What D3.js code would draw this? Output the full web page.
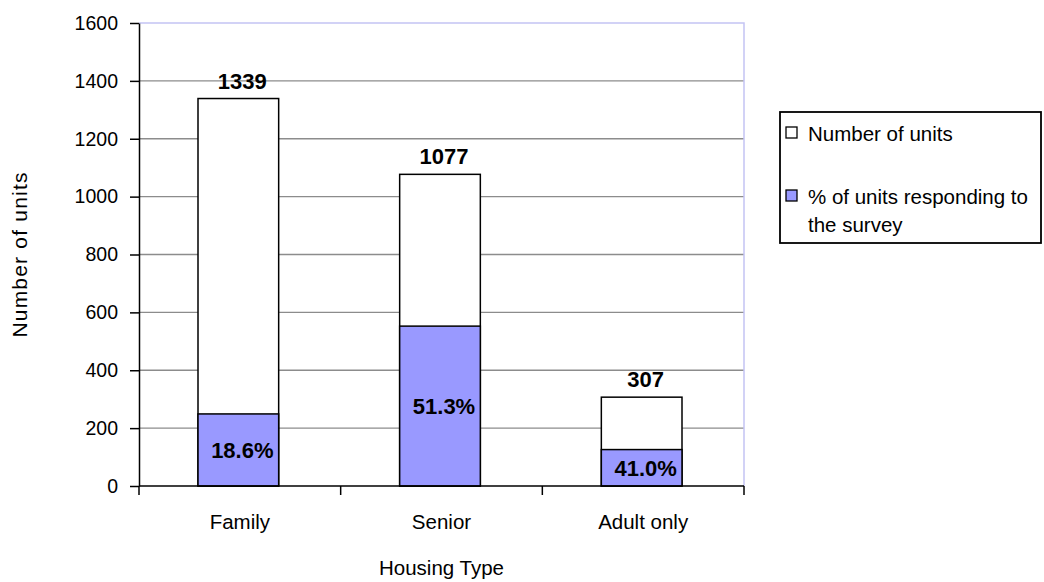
<!DOCTYPE html>
<html>
<head>
<meta charset="utf-8">
<style>
body { margin: 0; background: #fff; }
svg { display: block; font-family: Arial, 'Liberation Sans', sans-serif; }
</style>
</head>
<body>
<svg id="chart"></svg>
<script src="https://cdn.jsdelivr.net/npm/d3@7"></script>
<script>

const categories = ['Family', 'Senior', 'Adult only'];
const units = [1339, 1077, 307];
const responsePct = [18.6, 51.3, 41.0];
const yTicks = [0, 200, 400, 600, 800, 1000, 1200, 1400, 1600];
const legendLabels = ['Number of units', ['% of units responding to', 'the survey']];

const blue = '#9999ff';
const fullWidth = 1044;
const fullHeight = 582;
const plot = {left: 139, right: 744, top: 23, bottom: 486};

const data = categories.map((c, i) => ({
    category: c,
    total: units[i],
    pct: responsePct[i],
    responding: units[i] * responsePct[i] / 100,
}));

const svg = d3.select('#chart')
    .attr('width', fullWidth)
    .attr('height', fullHeight);

svg.append('rect')
    .attr('width', fullWidth)
    .attr('height', fullHeight)
    .attr('fill', '#fff');

const x = d3.scaleBand()
    .domain(categories)
    .range([plot.left, plot.right]);

const y = d3.scaleLinear()
    .domain([0, 1600])
    .range([plot.bottom, plot.top]);

const barWidth = x.bandwidth() * 0.4;
const barX = d => x(d.category) + (x.bandwidth() - barWidth) / 2 - 1.5;

// gridlines
svg.append('g')
    .selectAll('line')
    .data(yTicks.filter(t => t > 0 && t < 1600))
    .join('line')
    .attr('x1', plot.left)
    .attr('x2', plot.right)
    .attr('y1', d => y(d))
    .attr('y2', d => y(d))
    .attr('stroke', '#8c8c8c')
    .attr('stroke-width', 1.3);

// plot border top and right
svg.append('path')
    .attr('d', `M${plot.left},${y(1600)}H${plot.right}V${y(0)}`)
    .attr('fill', 'none')
    .attr('stroke', '#c4c4f4')
    .attr('stroke-width', 1.5);

// bars: total units (white) then responding (blue)
svg.append('g')
    .selectAll('rect')
    .data(data)
    .join('rect')
    .attr('x', barX)
    .attr('width', barWidth)
    .attr('y', d => y(d.total))
    .attr('height', d => y(0) - y(d.total))
    .attr('fill', '#fff')
    .attr('stroke', '#000')
    .attr('stroke-width', 1.5);

svg.append('g')
    .selectAll('rect')
    .data(data)
    .join('rect')
    .attr('x', barX)
    .attr('width', barWidth)
    .attr('y', d => y(d.responding))
    .attr('height', d => y(0) - y(d.responding))
    .attr('fill', blue)
    .attr('stroke', '#000')
    .attr('stroke-width', 1.5);

// y axis
const yAxis = svg.append('g')
    .attr('transform', `translate(${plot.left},0)`)
    .call(d3.axisLeft(y).tickValues(yTicks).tickFormat(d3.format('d'))
        .tickSize(9).tickPadding(12).tickSizeOuter(0));
yAxis.select('.domain').attr('stroke', '#000').attr('stroke-width', 1.5);
yAxis.selectAll('.tick line').attr('stroke', '#000').attr('stroke-width', 1.5);
yAxis.selectAll('.tick text')
    .attr('font-size', 19.5)
    .attr('font-family', 'Arial, Liberation Sans, sans-serif')
    .attr('fill', '#000');

// x axis: ticks at category boundaries
const xAxisG = svg.append('g');
xAxisG.append('line')
    .attr('x1', plot.left)
    .attr('x2', plot.right)
    .attr('y1', y(0))
    .attr('y2', y(0))
    .attr('stroke', '#000')
    .attr('stroke-width', 1.5);
xAxisG.selectAll('line.tk')
    .data(categories.concat(['end']))
    .join('line')
    .attr('class', 'tk')
    .attr('x1', (d, i) => plot.left + i * x.bandwidth())
    .attr('x2', (d, i) => plot.left + i * x.bandwidth())
    .attr('y1', y(0))
    .attr('y2', y(0) + 9)
    .attr('stroke', '#000')
    .attr('stroke-width', 1.5);
xAxisG.selectAll('text')
    .data(categories)
    .join('text')
    .attr('x', d => x(d) + x.bandwidth() / 2)
    .attr('y', 529)
    .attr('text-anchor', 'middle')
    .attr('font-size', 20.5)
    .text(d => d);

// value labels
svg.append('g')
    .selectAll('text')
    .data(data)
    .join('text')
    .attr('x', d => barX(d) + barWidth / 2 + 4)
    .attr('y', d => y(d.total) - 10)
    .attr('text-anchor', 'middle')
    .attr('font-size', 22)
    .attr('font-weight', 'bold')
    .text(d => d.total);

svg.append('g')
    .selectAll('text')
    .data(data)
    .join('text')
    .attr('x', d => barX(d) + barWidth / 2 + 4)
    .attr('y', d => (y(0) + y(d.responding)) / 2 + 8)
    .attr('text-anchor', 'middle')
    .attr('font-size', 22)
    .attr('font-weight', 'bold')
    .text(d => d.pct.toFixed(1) + '%');

// axis titles
svg.append('text')
    .attr('transform', `translate(27,${(plot.top + plot.bottom) / 2}) rotate(-90)`)
    .attr('text-anchor', 'middle')
    .attr('font-size', 21)
    .attr('letter-spacing', 1.2)
    .text('Number of units');

svg.append('text')
    .attr('x', (plot.left + plot.right) / 2)
    .attr('y', 575)
    .attr('text-anchor', 'middle')
    .attr('font-size', 20.5)
    .text('Housing Type');

// legend
const legend = svg.append('g');
legend.append('rect')
    .attr('x', 780)
    .attr('y', 112)
    .attr('width', 261)
    .attr('height', 131)
    .attr('fill', '#fff')
    .attr('stroke', '#000')
    .attr('stroke-width', 1.8);

const legendFills = ['#fff', blue];
const legendRows = [127, 190];
legendLabels.forEach((lbl, i) => {
    legend.append('rect')
        .attr('x', 786)
        .attr('y', legendRows[i])
        .attr('width', 11)
        .attr('height', 11)
        .attr('fill', legendFills[i])
        .attr('stroke', '#000')
        .attr('stroke-width', 1.3);
    const lines = Array.isArray(lbl) ? lbl : [lbl];
    const t = legend.append('text')
        .attr('font-size', 20.5)
        .attr('x', 808)
        .attr('y', legendRows[i] + 14);
    lines.forEach((ln, j) => {
        t.append('tspan')
            .attr('x', 808)
            .attr('dy', j === 0 ? 0 : 28)
            .text(ln);
    });
});

</script>
</body>
</html>
